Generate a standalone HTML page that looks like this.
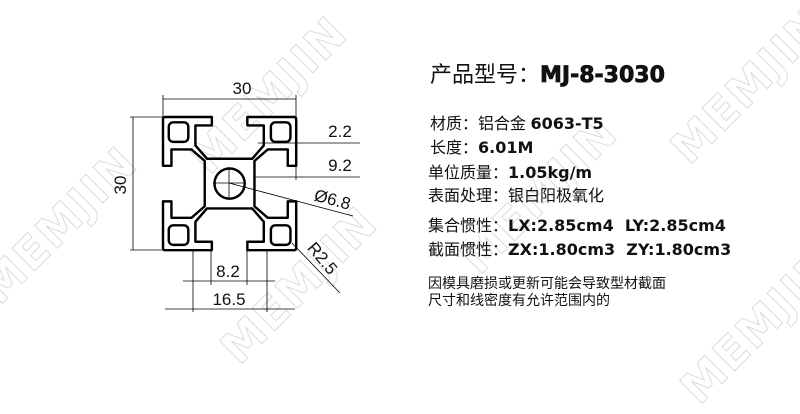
<!DOCTYPE html>
<html><head><meta charset="utf-8"><style>
body{margin:0;width:800px;height:400px;background:#fff;position:relative;overflow:hidden;font-family:"Liberation Sans","Noto Sans CJK SC",sans-serif;}
.t{position:absolute;white-space:nowrap;color:#111;font-size:16px;line-height:1;}
.b{font-family:"DejaVu Sans","Liberation Sans",sans-serif;font-weight:bold;font-size:16px;}
.wm{position:absolute;font-family:"DejaVu Sans",sans-serif;font-weight:bold;font-size:44px;color:#fff;-webkit-text-stroke:1px #dcdcdc;transform:rotate(-45deg);white-space:nowrap;letter-spacing:2px;}
</style></head><body>
<div class="wm" style="left:-40px;top:200px;">MEMJIN</div>
<div class="wm" style="left:170px;top:70px;">MEMJIN</div>
<div class="wm" style="left:200px;top:260px;">MEMJIN</div>
<div class="wm" style="left:440px;top:170px;">MEMJIN</div>
<div class="wm" style="left:650px;top:60px;">MEMJIN</div>
<div class="wm" style="left:660px;top:300px;">MEMJIN</div>
<svg width="800" height="400" style="position:absolute;left:0;top:0" xmlns="http://www.w3.org/2000/svg">
<g transform="translate(163,117) scale(4.44)" fill="none" stroke="#000" stroke-width="0.55" stroke-linejoin="round">
<path d="M0.5,0 L11,0 L11,1.9 L7.3,1.9 L7.3,6.4 L9.9,9.4 L20.1,9.4 L22.7,6.4 L22.7,1.9 L19,1.9 L19,0 L29.5,0 Q30,0 30,0.5 L30,11 L28.1,11 L28.1,7.3 L23.6,7.3 L20.6,9.9 L20.6,20.1 L23.6,22.7 L28.1,22.7 L28.1,19 L30,19 L30,29.5 Q30,30 29.5,30 L19,30 L19,28.1 L22.7,28.1 L22.7,23.6 L20.1,20.6 L9.9,20.6 L7.3,23.6 L7.3,28.1 L11,28.1 L11,30 L0.5,30 Q0,30 0,29.5 L0,19 L1.9,19 L1.9,22.7 L6.4,22.7 L9.4,20.1 L9.4,9.9 L6.4,7.3 L1.9,7.3 L1.9,11 L0,11 L0,0.5 Q0,0 0.5,0 Z"/>
<rect x="1.3" y="1.2" width="4.4" height="4.4" rx="1"/>
<rect x="24.3" y="1.2" width="4.4" height="4.4" rx="1"/>
<rect x="1.3" y="24.4" width="4.4" height="4.4" rx="1"/>
<rect x="24.3" y="24.4" width="4.4" height="4.4" rx="1"/>
<circle cx="15" cy="15" r="3.4"/>
</g>
<g stroke="#000" stroke-width="0.8" fill="none">
<line x1="213" y1="183" x2="245" y2="183"/><line x1="229" y1="167" x2="229" y2="199"/>
<line x1="163" y1="99" x2="296" y2="99"/><line x1="163" y1="95" x2="163" y2="117"/><line x1="296" y1="95" x2="296" y2="117"/>
<line x1="133" y1="117" x2="133" y2="250"/><line x1="130" y1="117" x2="163" y2="117"/><line x1="130" y1="250" x2="163" y2="250"/>
<line x1="258" y1="143" x2="360" y2="143"/>
<line x1="255" y1="177" x2="360" y2="177"/><line x1="296" y1="160" x2="296" y2="180"/>
<line x1="229" y1="183" x2="353" y2="216"/>
<line x1="292" y1="243" x2="340" y2="293"/>
<line x1="183" y1="281" x2="275" y2="281"/><line x1="211" y1="250" x2="211" y2="285"/><line x1="247" y1="250" x2="247" y2="285"/>
<line x1="165" y1="309" x2="295" y2="309"/><line x1="193" y1="250" x2="193" y2="312"/><line x1="267" y1="250" x2="267" y2="312"/>
</g>
<g font-family="Liberation Sans,sans-serif" font-size="17" fill="#111">
<text x="242" y="94" text-anchor="middle">30</text>
<text transform="translate(126,185) rotate(-90)" text-anchor="middle">30</text>
<text x="340" y="137" text-anchor="middle">2.2</text>
<text x="340" y="171" text-anchor="middle">9.2</text>
<text transform="translate(331,205) rotate(15)" text-anchor="middle">Ø6.8</text>
<text transform="translate(318,262) rotate(50)" text-anchor="middle">R2.5</text>
<text x="228" y="277" text-anchor="middle">8.2</text>
<text x="229" y="305" text-anchor="middle">16.5</text>
</g>
</svg>
<div class="t" style="left:430px;top:64px;font-size:22px;">产品型号：<span class="b" style="font-size:22px;font-weight:900;-webkit-text-stroke:0.8px #111;">MJ-8-3030</span></div>
<div class="t" style="left:430px;top:116px;">材质：铝合金 <span class="b">6063-T5</span></div>
<div class="t" style="left:430px;top:140px;">长度：<span class="b">6.01M</span></div>
<div class="t" style="left:428px;top:165px;">单位质量：<span class="b">1.05kg/m</span></div>
<div class="t" style="left:428px;top:189px;">表面处理：银白阳极氧化</div>
<div class="t" style="left:428px;top:218px;">集合惯性：<span class="b">LX:2.85cm4&nbsp;&nbsp;LY:2.85cm4</span></div>
<div class="t" style="left:428px;top:242px;">截面惯性：<span class="b">ZX:1.80cm3&nbsp;&nbsp;ZY:1.80cm3</span></div>
<div class="t" style="left:428px;top:276px;font-size:14px;">因模具磨损或更新可能会导致型材截面</div>
<div class="t" style="left:428px;top:293px;font-size:14px;">尺寸和线密度有允许范围内的</div>
</body></html>
